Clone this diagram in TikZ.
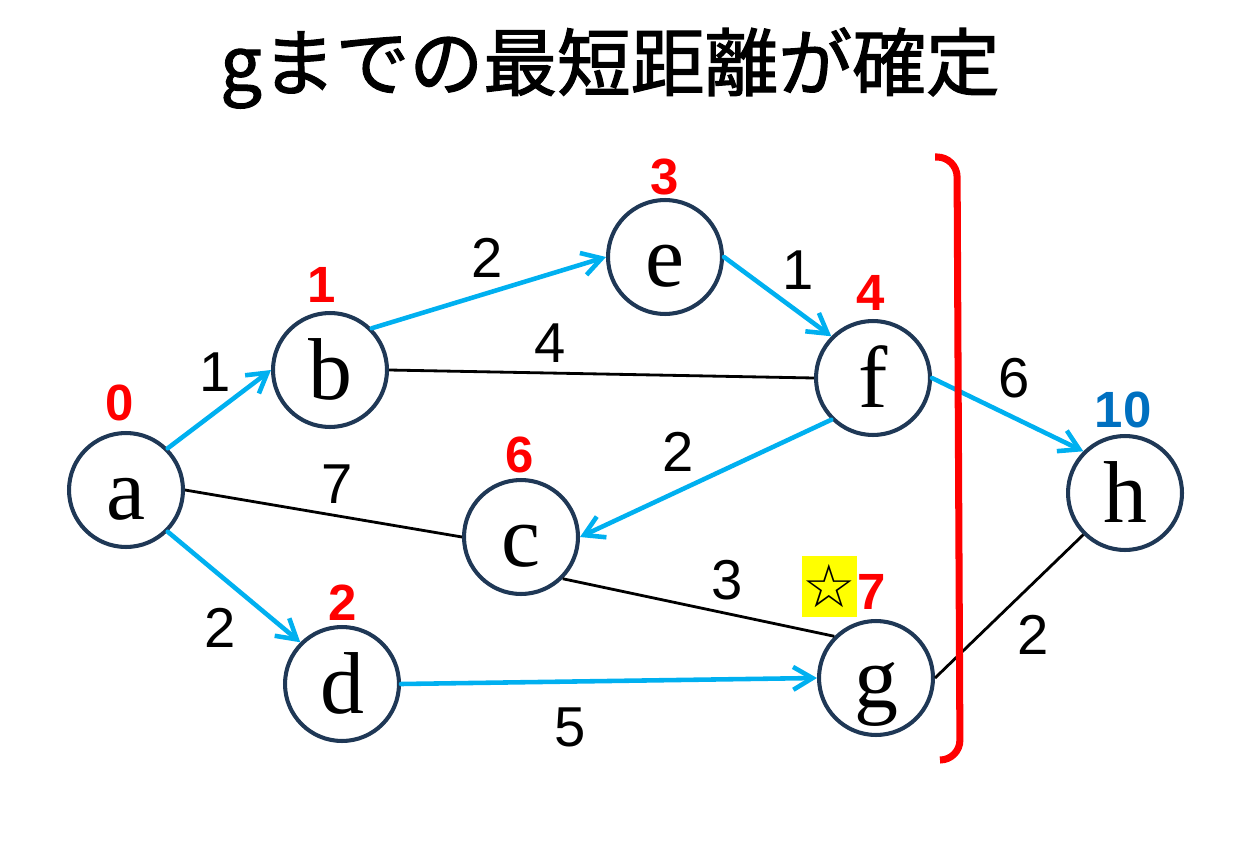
\documentclass[tikz,border=0pt]{standalone}
\usepackage{fontspec}
\setmainfont{Liberation Serif}
\newfontfamily\jpfont[FakeBold=1.6]{Noto Sans CJK JP}
\newfontfamily\arialfont{Liberation Sans}
\newfontfamily\symfont{DejaVu Sans}
\usetikzlibrary{arrows.meta}
\definecolor{navy}{RGB}{31,56,86}
\definecolor{cyanc}{RGB}{0,176,240}
\definecolor{redc}{RGB}{255,0,0}
\definecolor{bluec}{RGB}{0,112,192}
\definecolor{yellowc}{RGB}{255,255,0}
\begin{document}
\begin{tikzpicture}[x=0.02cm,y=-0.02cm,
  vert/.style={circle,draw=navy,line width=2.3pt,minimum size=2.28cm,inner sep=0pt,
    text height=45pt,text depth=11pt,font=\fontsize{50}{50}\selectfont},
  tree/.style={draw=cyanc,line width=2.6pt,line cap=round,
    -{Straight Barb[length=11pt,width=13pt,line width=2.6pt]}},
  plain/.style={draw=black,line width=1.6pt},
  wlab/.style={inner sep=0pt,font=\arialfont\fontsize{32}{32}\selectfont},
  dlab/.style={inner sep=0pt,text=redc,font=\arialfont\bfseries\fontsize{29}{29}\selectfont},
]
\useasboundingbox (0,0) rectangle (1257,858);
\node[inner sep=0pt,font=\jpfont\fontsize{42}{42}\selectfont] (title) at (610,68) {gまでの最短距離が確定};

\node[vert] (a) at (126,490) {a};
\node[vert] (b) at (330,370) {b};
\node[vert] (e) at (665,257) {e};
\node[vert] (f) at (873,378) {f};
\node[vert] (c) at (521,537) {c};
\node[vert] (d) at (342,684) {d};
\node[vert] (g) at (876,678) {g};
\node[vert] (h) at (1125,493) {h};

\draw[tree] (a.north east) -- (b.west);
\draw[tree] (a.south east) -- (d.north west);
\draw[plain] (a.east) -- (c.west);
\draw[tree] (b.north east) -- (e.west);
\draw[plain] (b.east) -- (f.west);
\draw[tree] (e.east) -- (f.north west);
\draw[tree] (f.south west) -- (c.east);
\draw[tree] (f.east) -- (h.north west);
\draw[plain] (c.south east) -- (g.north west);
\draw[tree] (d.east) -- (g.west);
\draw[plain] (h.south west) -- (g.east);

\node[wlab] (w1) at (215,372) {1};
\node[wlab] (w2) at (487,258) {2};
\node[wlab] (w3) at (798,270) {1};
\node[wlab] (w4) at (550,343) {4};
\node[wlab] (w5) at (337,484) {7};
\node[wlab] (w6) at (678,452) {2};
\node[wlab] (w7) at (1014,378) {6};
\node[wlab] (w8) at (727,580) {3};
\node[wlab] (w9) at (220,628) {2};
\node[wlab] (w10) at (570,727) {5};
\node[wlab] (w11) at (1033,635) {2};

\node[dlab] (la) at (120,403) {0};
\node[dlab] (lb) at (322,285) {1};
\node[dlab] (le) at (665,177) {3};
\node[dlab] (lf) at (871,293) {4};
\node[dlab] (lc) at (520,455) {6};
\node[dlab] (ld) at (343,603) {2};
\node[dlab,text=bluec] (lh) at (1123,410) {10};
\node[dlab] (lg) at (872,592) {7};
\node[fill=yellowc,minimum width=1.1cm,minimum height=1.22cm,inner sep=0pt,
  font=\symfont\fontsize{34}{34}\selectfont] (star) at (829.5,586.5) {☆};

\draw[draw=redc,line width=4pt,rounded corners=0.4cm] (935,157) -- (957,157) -- (960,760) -- (940,760);
\end{tikzpicture}
\end{document}
